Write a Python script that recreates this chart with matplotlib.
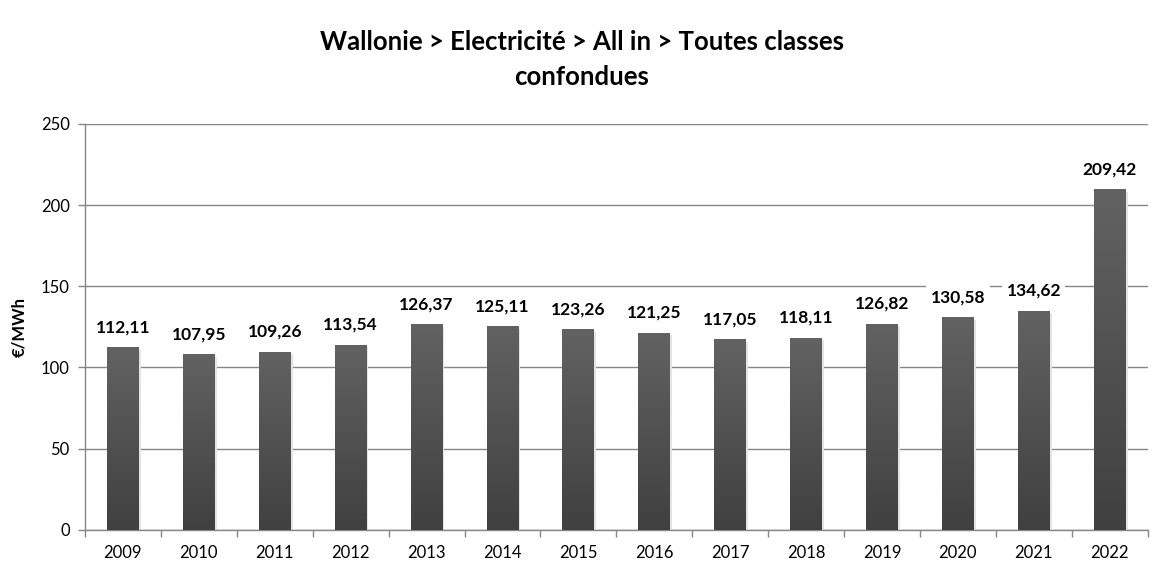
import matplotlib
matplotlib.use("Agg")
import matplotlib.pyplot as plt
import numpy as np

YEARS = ["2009", "2010", "2011", "2012", "2013", "2014", "2015",
         "2016", "2017", "2018", "2019", "2020", "2021", "2022"]
PRICES = [112.11, 107.95, 109.26, 113.54, 126.37, 125.11, 123.26,
          121.25, 117.05, 118.11, 126.82, 130.58, 134.62, 209.42]
TITLE = "Wallonie > Electricité > All in > Toutes classes\nconfondues"
Y_LABEL = "€/MWh"

plt.rcParams["font.family"] = ["Lato", "DejaVu Sans"]

fig = plt.figure(figsize=(11.64, 5.71), dpi=100)
ax = fig.add_axes([0.073, 0.072, 0.913, 0.711])

x = np.arange(len(YEARS))
bars = ax.bar(x, PRICES, width=0.42, color="none", zorder=3)

# vertical gradient fill for each bar
grad = np.linspace(0, 1, 256).reshape(-1, 1)
cmap = matplotlib.colors.LinearSegmentedColormap.from_list("g", ["#404040", "#626262"])
for b in bars:
    x0, w, h = b.get_x(), b.get_width(), b.get_height()
    # soft shadow
    ax.bar(x0 + w / 2 + 0.025, h, width=w, bottom=-1.2, color="#e4e4e4", zorder=2)
    ax.imshow(grad, extent=(x0, x0 + w, 0, h), origin="lower", cmap=cmap,
              aspect="auto", zorder=3)

for xi, v in zip(x, PRICES):
    ax.annotate(f"{v:.2f}".replace(".", ","), (xi, v), xytext=(0, 9),
                textcoords="offset points", ha="center", va="bottom",
                fontsize=12.5, fontweight="bold", zorder=4,
                bbox=dict(boxstyle="square,pad=0.25", fc="white", ec="none"))

ax.set_xlim(-0.5, len(YEARS) - 0.5)
ax.set_ylim(0, 250)
ax.set_yticks(np.arange(0, 251, 50))
ax.set_xticks(x)
ax.set_xticklabels(YEARS)
ax.set_xticks(np.arange(-0.5, len(YEARS), 1), minor=True)
ax.tick_params(axis="x", which="major", length=0, pad=11, labelsize=12)
ax.tick_params(axis="x", which="minor", length=5, color="#868686", width=1)
ax.tick_params(axis="y", length=5, color="#868686", width=1, labelsize=12, pad=6)

ax.grid(axis="y", color="#868686", linewidth=1, zorder=1)
ax.set_axisbelow(True)
for side in ["top", "right"]:
    ax.spines[side].set_visible(False)
for side in ["left", "bottom"]:
    ax.spines[side].set_color("#868686")
    ax.spines[side].set_linewidth(1)

ax.set_ylabel(Y_LABEL, fontsize=12, fontweight="bold", labelpad=10)
fig.suptitle(TITLE, fontsize=18.5, fontweight="bold", y=0.948, linespacing=1.55)

fig.savefig("out.png", dpi=100)
